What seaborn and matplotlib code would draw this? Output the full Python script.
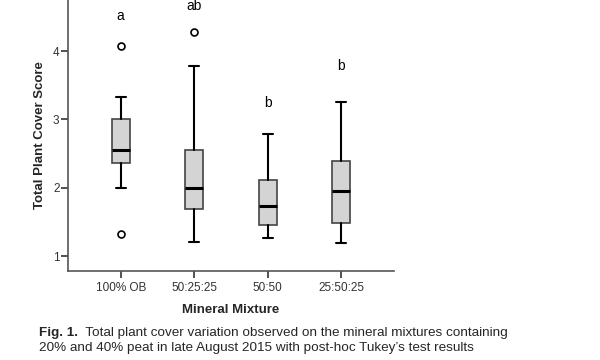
import matplotlib
matplotlib.use("Agg")
import matplotlib.pyplot as plt
import seaborn as sns

# five-number summaries
mixtures = ['100% OB', '50:25:25', '50:50', '25:50:25']
whisker_low = [2.00, 1.20, 1.26, 1.19]
q1 = [2.36, 1.69, 1.46, 1.49]
median = [2.56, 2.00, 1.73, 1.96]
q3 = [3.00, 2.56, 2.12, 2.39]
whisker_high = [3.33, 3.79, 2.79, 3.26]
outliers = [[4.07, 1.33], [4.28], [], []]
tukey_letters = ['a', 'ab', 'b', 'b']
letter_y = [4.51, 4.66, 3.24, 3.79]

sns.set_theme(style='ticks')
plt.rcParams['font.family'] = ['Liberation Sans', 'DejaVu Sans']

fig = plt.figure(figsize=(6, 3.6), dpi=100)
ax = fig.add_axes([0.113, 0.247, 0.544, 0.753])

stats = []
for i, name in enumerate(mixtures):
    stats.append({'label': name, 'whislo': whisker_low[i], 'q1': q1[i], 'med': median[i],
                  'q3': q3[i], 'whishi': whisker_high[i], 'fliers': outliers[i]})

ax.bxp(stats, positions=range(len(mixtures)), widths=0.25, patch_artist=True, showfliers=True,
       boxprops={'facecolor': '#d4d4d4', 'edgecolor': '#444444', 'linewidth': 1.2},
       medianprops={'color': 'black', 'linewidth': 2.2},
       whiskerprops={'color': 'black', 'linewidth': 1.5},
       capprops={'color': 'black', 'linewidth': 1.5},
       capwidths=0.14,
       flierprops={'marker': 'o', 'markerfacecolor': 'white', 'markeredgecolor': 'black',
                   'markersize': 5, 'markeredgewidth': 1.2})

for i, lab in enumerate(tukey_letters):
    ax.text(i, letter_y[i], lab, ha='center', va='center', fontsize=10, color='black')

ax.set_xlim(-0.72, 3.72)
ax.set_ylim(0.78, 4.75)
ax.set_yticks([1, 2, 3, 4])
ax.tick_params(axis='both', labelsize=8.5, colors='#333333', length=5, width=1.2)
ax.tick_params(axis='y', pad=1)
ax.tick_params(axis='x', pad=3)
ax.set_xlabel('Mineral Mixture', fontsize=9.5, fontweight='bold', labelpad=7)
ax.set_ylabel('Total Plant Cover Score', fontsize=9.5, fontweight='bold', labelpad=5)
for side in ['left', 'bottom']:
    ax.spines[side].set_color('#555555')
    ax.spines[side].set_linewidth(1.2)
sns.despine(ax=ax)

fig_lbl = fig.text(0.065, 1 - 333 / 360, 'Fig. 1.', fontsize=9.7, fontweight='bold', va='center')
ax.annotate('  Total plant cover variation observed on the mineral mixtures containing',
            xy=(1, 0.5), xycoords=fig_lbl, va='center', fontsize=9.7)
fig.text(0.065, 1 - 348 / 360, '20% and 40% peat in late August 2015 with post-hoc Tukey\u2019s test results',
         fontsize=9.7, va='center')

fig.savefig('out.png', dpi=100)
